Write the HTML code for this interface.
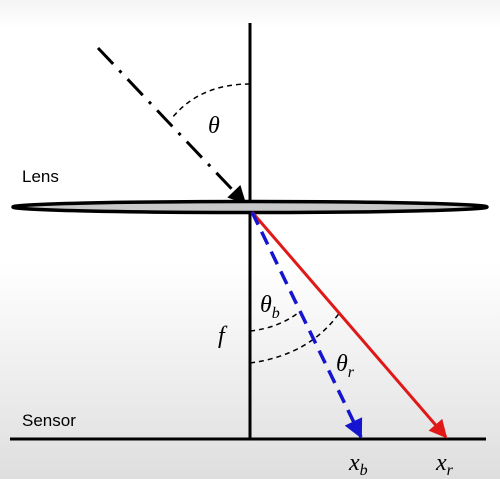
<!DOCTYPE html>
<html><head><style>
body{margin:0;width:500px;height:479px;overflow:hidden}
svg{display:block}
</style></head><body>
<svg width="500" height="479" viewBox="0 0 500 479">
<defs>
<linearGradient id="bg" x1="0" y1="0" x2="0" y2="1">
<stop offset="0" stop-color="#f4f4f4"/><stop offset="0.06" stop-color="#fff"/>
<stop offset="0.55" stop-color="#fff"/><stop offset="1" stop-color="#dedede"/>
</linearGradient>
<marker id="ak" viewBox="0 0 10 10" refX="9" refY="5" markerWidth="7" markerHeight="6" orient="auto"><path d="M0,0L10,5L0,10z" fill="#000"/></marker>
<marker id="ab" viewBox="0 0 10 10" refX="9" refY="5" markerWidth="6.5" markerHeight="5.5" orient="auto"><path d="M0,0L10,5L0,10z" fill="#1515d0"/></marker>
<marker id="ar" viewBox="0 0 10 10" refX="9" refY="5" markerWidth="7" markerHeight="6" orient="auto"><path d="M0,0L10,5L0,10z" fill="#e01818"/></marker>
</defs>
<rect width="500" height="479" fill="url(#bg)"/>
<line x1="250" y1="23" x2="250" y2="440" stroke="#000" stroke-width="3"/>
<line x1="10" y1="439" x2="486" y2="439" stroke="#000" stroke-width="3"/>
<path d="M250,84 Q200,84 172,118" fill="none" stroke="#000" stroke-width="1.5" stroke-dasharray="5,4"/>
<path d="M250,331 Q278,328 298,313" fill="none" stroke="#000" stroke-width="1.5" stroke-dasharray="5,4"/>
<path d="M250,363 Q310,355 340,312" fill="none" stroke="#000" stroke-width="1.5" stroke-dasharray="5,4"/>
<line x1="98" y1="48" x2="245" y2="203" stroke="#000" stroke-width="3" stroke-dasharray="22,9,3,9" marker-end="url(#ak)"/>
<ellipse cx="250" cy="207" rx="237" ry="5.5" fill="#c8c8c8" stroke="#000" stroke-width="3.5"/>
<line x1="252" y1="212" x2="446" y2="437" stroke="#e01818" stroke-width="3" marker-end="url(#ar)"/>
<line x1="252" y1="212" x2="361" y2="437" stroke="#1515d0" stroke-width="3.5" stroke-dasharray="14,8" marker-end="url(#ab)"/>
<g font-family="Liberation Serif, serif" font-style="italic" font-size="24">
<text x="208" y="133">θ</text>
<text x="260" y="312">θ<tspan font-size="16" dy="6">b</tspan></text>
<text x="336" y="371">θ<tspan font-size="16" dy="6">r</tspan></text>
<text x="218" y="343">f</text>
<text x="349" y="470">x<tspan font-size="16" dy="5">b</tspan></text>
<text x="436" y="470">x<tspan font-size="16" dy="5">r</tspan></text>
</g>
<g font-family="Liberation Sans, sans-serif" font-size="17">
<text x="22" y="182">Lens</text>
<text x="22" y="426">Sensor</text>
</g>
</svg>
</body></html>
